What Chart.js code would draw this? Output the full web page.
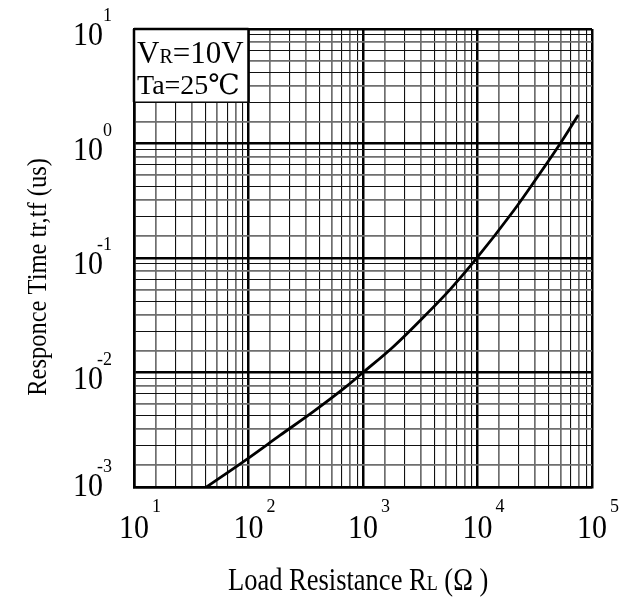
<!DOCTYPE html>
<html><head><meta charset="utf-8">
<script src="https://cdn.jsdelivr.net/npm/chart.js@4.4.1/dist/chart.umd.min.js"></script>
<style>html,body{margin:0;padding:0;background:#fff;}canvas{display:block;}</style>
</head><body>
<canvas id="c" width="625" height="605"></canvas>
<script>
// ---- data ----
const loadResistance = [43, 100, 188, 368, 721, 1000, 1840, 3600, 5750, 9190, 20500, 32900, 52500, 75900];
const responseTime   = [0.001, 0.00179, 0.00282, 0.00455, 0.0076, 0.01, 0.0168, 0.0325, 0.053, 0.0915, 0.256, 0.5, 0.99, 1.77];
const xTickExponents = [1, 2, 3, 4, 5];
const yTickExponents = [-3, -2, -1, 0, 1];
const tickBase = '10';
const gridMultipliers = [1.55, 2.3, 3.2, 4.2, 5.3, 6.5, 7.7, 8.9];
const xTitleParts = ['Load Resistance R', 'L', ' (\u03A9 )'];
const yTitle = 'Responce Time tr,tf (us)';
const noteLine1 = ['V', 'R', '=10V'];
const noteLine2 = 'Ta=25\u2103';
const noteBoxX = 100, noteBoxY = 2.3;

const SERIF = '"Liberation Serif", "DejaVu Serif", serif';

function gridTicks(exps) {
  const t = [];
  for (let i = 0; i < exps.length; i++) {
    const d = Math.pow(10, exps[i]);
    t.push({ value: d, major: true });
    if (i < exps.length - 1) gridMultipliers.forEach((m, j) => t.push({ value: d * m, major: false, idx: j }));
  }
  return t;
}
const gridColor = ctx => {
  const t = ctx.tick; if (!t || t.major) return '#000';
  return (t.idx % 2) ? '#111' : '#6e6e6e';
};
const gridWidth = ctx => {
  const t = ctx.tick; if (!t || t.major) return 2.5;
  return (t.idx % 2) ? 1.1 : 1.7;
};

function txt(ctx, s, x, y, size, align, sy) {
  ctx.save();
  ctx.font = size + 'px ' + SERIF;
  ctx.textAlign = align; ctx.textBaseline = 'alphabetic';
  ctx.fillStyle = '#000';
  ctx.translate(x, y); ctx.scale(1, sy || 1);
  ctx.fillText(s, 0, 0);
  const w = ctx.measureText(s).width;
  ctx.restore();
  return w;
}

const decor = {
  id: 'decor',
  beforeDatasetsDraw(chart) {
    const { ctx, chartArea: a, scales: { x, y } } = chart;
    const r = x.getPixelForValue(noteBoxX), b = y.getPixelForValue(noteBoxY);
    ctx.save();
    ctx.fillStyle = '#fff';
    ctx.fillRect(a.left, a.top, r - a.left, b - a.top);
    ctx.strokeStyle = '#000';
    ctx.lineWidth = 2.5;
    ctx.beginPath();
    ctx.moveTo(a.left, a.top); ctx.lineTo(r, a.top);
    ctx.moveTo(a.left, a.top); ctx.lineTo(a.left, b);
    ctx.moveTo(r, a.top); ctx.lineTo(r, b);
    ctx.stroke();
    ctx.lineWidth = 1.2;
    ctx.beginPath(); ctx.moveTo(a.left, b); ctx.lineTo(r, b); ctx.stroke();
    ctx.restore();
    let cx = a.left + 3;
    cx += txt(ctx, noteLine1[0], cx, 63, 31, 'left');
    cx += txt(ctx, noteLine1[1], cx, 63, 20, 'left');
    txt(ctx, noteLine1[2], cx, 63, 31, 'left');
    txt(ctx, noteLine2, a.left + 3, 94, 28, 'left');
  },
  afterDraw(chart) {
    const { ctx, scales: { x, y } } = chart;
    xTickExponents.forEach(e => {
      const px = x.getPixelForValue(Math.pow(10, e));
      const w = txt(ctx, tickBase, px, 538, 30, 'center', 1.1);
      txt(ctx, String(e), px + w / 2 + 3, 512, 18, 'left', 1.1);
    });
    yTickExponents.forEach(e => {
      const py = y.getPixelForValue(Math.pow(10, e));
      const base = Math.min(py + 16, 496);
      txt(ctx, tickBase, 103, base, 30, 'right', 1.1);
      txt(ctx, String(e), 112, base - 24, 18, 'right', 1.1);
    });
    let cx = 228;
    cx += txt(ctx, xTitleParts[0], cx, 590, 26.5, 'left', 1.2);
    cx += txt(ctx, xTitleParts[1], cx, 590, 18, 'left', 1.2);
    txt(ctx, xTitleParts[2], cx, 590, 26.5, 'left', 1.2);
    ctx.save();
    ctx.translate(46, 277); ctx.rotate(-Math.PI / 2);
    txt(ctx, yTitle, 0, 0, 24.5, 'center', 1.15);
    ctx.restore();
  }
};

const scaleCommon = {
  type: 'logarithmic',
  ticks: { display: false, autoSkip: false },
  grid: { drawTicks: false, color: gridColor, lineWidth: gridWidth },
  border: { display: true, color: '#000', width: 2.5 }
};

new Chart(document.getElementById('c'), {
  type: 'line',
  data: {
    datasets: [{
      data: loadResistance.map((v, i) => ({ x: v, y: responseTime[i] })),
      borderColor: '#000', borderWidth: 2.8, pointRadius: 0,
      cubicInterpolationMode: 'monotone', fill: false
    }]
  },
  options: {
    responsive: false, animation: false, devicePixelRatio: 1,
    layout: { padding: { left: 134, right: 33, top: 29, bottom: 118 } },
    plugins: { legend: { display: false }, tooltip: { enabled: false } },
    scales: {
      x: Object.assign({}, scaleCommon, {
        min: Math.pow(10, xTickExponents[0]), max: Math.pow(10, xTickExponents[xTickExponents.length - 1]),
        afterBuildTicks: s => { s.ticks = gridTicks(xTickExponents); }
      }),
      y: Object.assign({}, scaleCommon, {
        min: Math.pow(10, yTickExponents[0]), max: Math.pow(10, yTickExponents[yTickExponents.length - 1]),
        afterBuildTicks: s => { s.ticks = gridTicks(yTickExponents); }
      })
    }
  },
  plugins: [decor]
});
</script>
</body></html>
